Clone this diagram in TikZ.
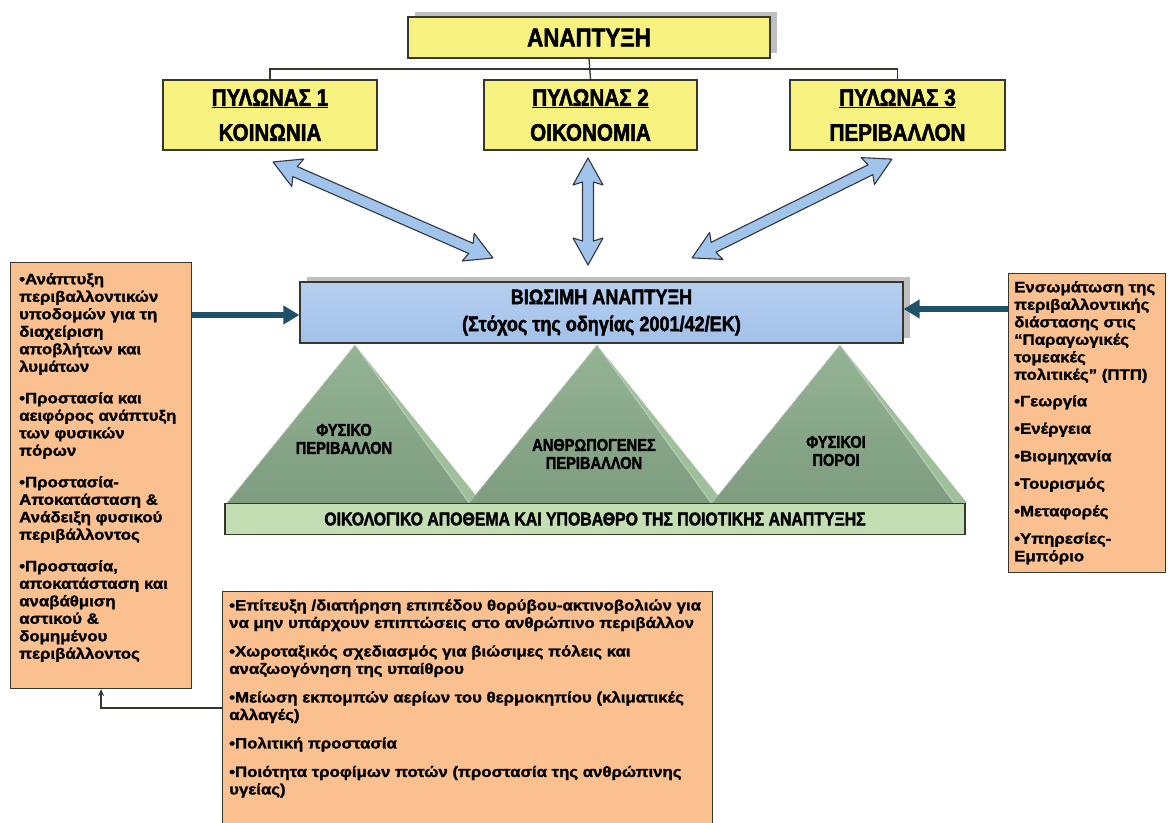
\documentclass[tikz,border=0pt]{standalone}
\usepackage{fontspec}
\setmainfont{Liberation Sans}
\newfontfamily\cond{Liberation Sans Bold}[FakeStretch=0.86, FakeBold=2]
\newfontfamily\heavy{Liberation Sans Bold}[FakeStretch=1.12, FakeBold=1.5]
\usetikzlibrary{arrows.meta,calc,shadows}
\definecolor{yfill}{RGB}{248,243,128}
\definecolor{edge}{RGB}{55,55,45}
\definecolor{ofill}{RGB}{250,192,143}
\definecolor{biotop}{RGB}{182,207,240}
\definecolor{biobot}{RGB}{162,193,233}
\definecolor{afill}{RGB}{160,196,236}
\definecolor{aedge}{RGB}{50,55,65}
\definecolor{barfill}{RGB}{196,222,180}
\definecolor{trifront}{RGB}{126,156,127}
\definecolor{tritop}{RGB}{148,180,148}
\definecolor{triside}{RGB}{160,192,156}
\definecolor{tealc}{RGB}{31,82,105}
\definecolor{shadowc}{RGB}{175,175,178}
% double arrow: #1 centre coordinate, #2 angle, #3 length
\newcommand{\myDblArrow}[3]{%
  \begin{scope}[shift={(#1)}, rotate=#2]
    \filldraw[draw=aedge, line width=1.1pt, fill=afill, line join=round]
      ({-#3/2},0) -- ({-#3/2+27},15) -- ({-#3/2+24},5.5) -- ({#3/2-24},5.5) -- ({#3/2-27},15)
      -- ({#3/2},0) -- ({#3/2-27},-15) -- ({#3/2-24},-5.5) -- ({-#3/2+24},-5.5) -- ({-#3/2+27},-15) -- cycle;
  \end{scope}}
\begin{document}
\begin{tikzpicture}[x=1pt,y=-1pt,
  ybox/.style={draw=edge, line width=1.3pt, fill=yfill, inner sep=0pt, align=center,
    font={\cond\fontsize{24}{35}\selectfont}},
  obox/.style={draw=edge, line width=1.2pt, fill=ofill, inner sep=0pt},
  btext/.style={inner sep=0pt, align=left, font={\heavy\fontsize{15}{17.5}\selectfont}},
  conn/.style={draw=edge, line width=1.3pt},
  tealarrow/.style={draw=tealc, line width=6pt, -{Triangle[length=16pt,width=18pt]}},
  tritext/.style={inner sep=0pt, align=center, font={\cond\fontsize{17}{18}\selectfont}},
  boxshadow/.style={general shadow={shadow xshift=7pt, shadow yshift=5pt, fill=shadowc, opacity=0.8}}
]
\useasboundingbox (0,0) rectangle (1172,822);
\fill[white] (0,0) rectangle (1172,822);

% top hierarchy
\node[ybox, boxshadow, minimum width=362pt, minimum height=41pt,
  font={\cond\fontsize{26}{30}\selectfont}] (top) at (589,37.5) {ΑΝΑΠΤΥΞΗ};
\node[ybox, minimum width=214pt, minimum height=70pt] (p1) at (270,115) {\underline{ΠΥΛΩΝΑΣ 1}\\ΚΟΙΝΩΝΙΑ};
\node[ybox, minimum width=213pt, minimum height=70pt] (p2) at (590.5,115) {\underline{ΠΥΛΩΝΑΣ 2}\\ΟΙΚΟΝΟΜΙΑ};
\node[ybox, minimum width=215pt, minimum height=70pt] (p3) at (897.5,115) {\underline{ΠΥΛΩΝΑΣ 3}\\ΠΕΡΙΒΑΛΛΟΝ};
\coordinate (hj) at (589,69);
\draw[conn] (top.south) -- (p2.north);
\draw[conn] (p1.north) |- (hj) -| (p3.north);

% central box
\node[draw=edge, line width=1.2pt, top color=biotop, bottom color=biobot, boxshadow,
  minimum width=603pt, minimum height=61pt, inner sep=0pt, align=center,
  font={\cond\fontsize{21}{27}\selectfont}] (bio) at (601.5,312.5)
  {ΒΙΩΣΙΜΗ ΑΝΑΠΤΥΞΗ\\(Στόχος της οδηγίας 2001/42/ΕΚ)};

% double arrows between the pillars and the central box
\coordinate (a1) at (383,210);
\coordinate (a2) at (588,211.5);
\coordinate (a3) at (792,208.5);
\myDblArrow{a1}{-23.6}{240}
\myDblArrow{a2}{90}{107}
\myDblArrow{a3}{26.3}{223}

% pyramids
\foreach \a in {355,597,840}{
  \fill[top color=tritop, bottom color=trifront] (\a,345) -- (\a-128,503) -- (\a+114,503) -- cycle;
  \fill[triside] (\a,345) -- (\a+114,503) -- (\a+127,503) -- cycle;
  \draw[white, opacity=0.35, line width=1pt] (\a-128,503) -- (\a,345) -- (\a+114,503);
}
\node[tritext] (t1) at (344,439) {ΦΥΣΙΚΟ\\ΠΕΡΙΒΑΛΛΟΝ};
\node[tritext] (t2) at (594,454) {ΑΝΘΡΩΠΟΓΕΝΕΣ\\ΠΕΡΙΒΑΛΛΟΝ};
\node[tritext] (t3) at (836,451) {ΦΥΣΙΚΟΙ\\ΠΟΡΟΙ};
\node[draw=edge, line width=1.2pt, fill=barfill, minimum width=740pt, minimum height=31pt,
  inner sep=0pt, font={\cond\fontsize{18.4}{20}\selectfont}] (bar) at (595,519)
  {ΟΙΚΟΛΟΓΙΚΟ ΑΠΟΘΕΜΑ ΚΑΙ ΥΠΟΒΑΘΡΟ ΤΗΣ ΠΟΙΟΤΙΚΗΣ ΑΝΑΠΤΥΞΗΣ};

% left box
\node[obox, anchor=north west, minimum width=181pt, minimum height=426pt] (lbox) at (10,262) {};
\node[btext, anchor=north west] (ltext) at (19,273) {%
•Ανάπτυξη\\
περιβαλλοντικών\\
υποδομών για τη\\
διαχείριση\\
αποβλήτων και\\
λυμάτων\\[14pt]
•Προστασία και\\
αειφόρος ανάπτυξη\\
των φυσικών\\
πόρων\\[14pt]
•Προστασία-\\
Αποκατάσταση \&\\
Ανάδειξη φυσικού\\
περιβάλλοντος\\[14pt]
•Προστασία,\\
αποκατάσταση και\\
αναβάθμιση\\
αστικού \&\\
δομημένου\\
περιβάλλοντος};

% right box
\node[obox, anchor=north west, minimum width=157pt, minimum height=299pt] (rbox) at (1008,273) {};
\node[btext, anchor=north west] (rtext) at (1014,281) {%
Ενσωμάτωση της\\
περιβαλλοντικής\\
διάστασης στις\\
“Παραγωγικές\\
τομεακές\\
πολιτικές” (ΠΤΠ)\\[9pt]
•Γεωργία\\[10pt]
•Ενέργεια\\[10pt]
•Βιομηχανία\\[10pt]
•Τουρισμός\\[10pt]
•Μεταφορές\\[10pt]
•Υπηρεσίες-\\
Εμπόριο};

% bottom box
\node[obox, anchor=north west, minimum width=490pt, minimum height=240pt] (bbox) at (222,591) {};
\node[btext, anchor=north west] (btxt) at (229,599) {%
•Επίτευξη /διατήρηση επιπέδου θορύβου-ακτινοβολιών για\\
να μην υπάρχουν επιπτώσεις στο ανθρώπινο περιβάλλον\\[11pt]
•Χωροταξικός σχεδιασμός για βιώσιμες πόλεις και\\
αναζωογόνηση της υπαίθρου\\[11pt]
•Μείωση εκπομπών αερίων του θερμοκηπίου  (κλιματικές\\
αλλαγές)\\[11pt]
•Πολιτική προστασία\\[11pt]
•Ποιότητα τροφίμων ποτών (προστασία της ανθρώπινης\\
υγείας)};

% connectors into the central box
\coordinate (la) at (0,315);
\coordinate (ra) at (0,309);
\draw[tealarrow] (lbox.east |- la) -- (bio.west |- la);
\draw[tealarrow] (rbox.west |- ra) -- (bio.east |- ra);
\coordinate (bc) at (0,708);
\draw[conn, -{Stealth[length=7pt,width=6pt]}] (bbox.west |- bc) -| (lbox.south);
\end{tikzpicture}
\end{document}
